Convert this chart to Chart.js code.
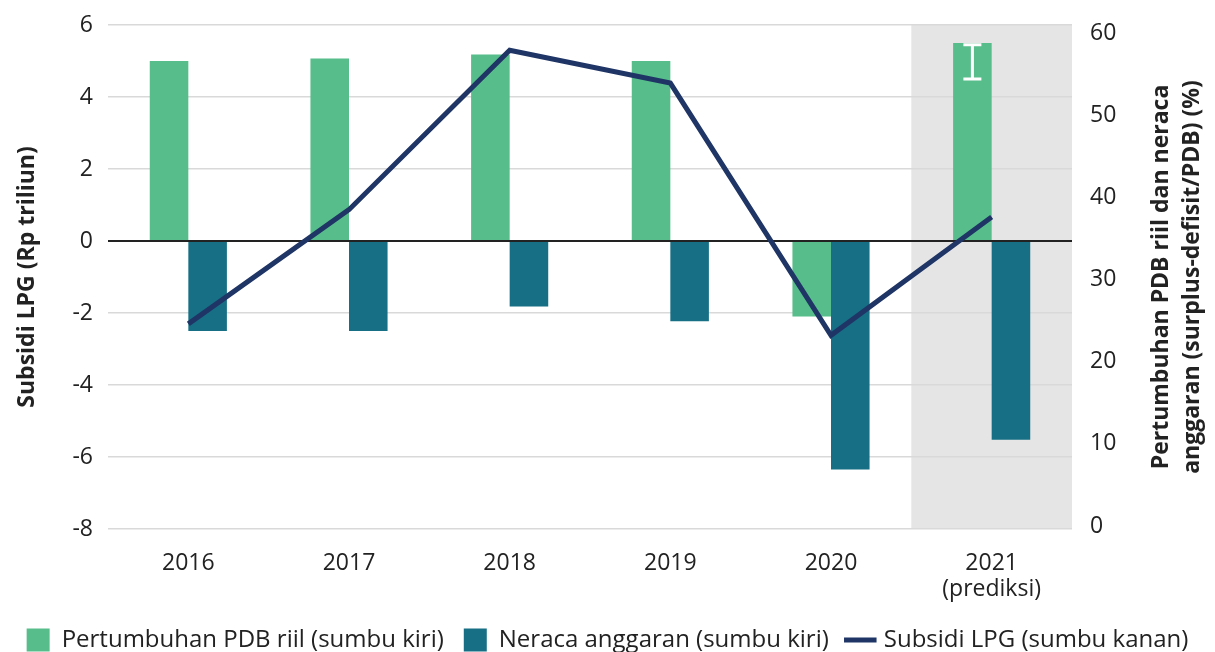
<!DOCTYPE html>
<html>
<head>
<meta charset="utf-8">
<script src="https://cdn.jsdelivr.net/npm/chart.js@4.4.1/dist/chart.umd.min.js"></script>
<style>
  html, body { margin: 0; padding: 0; background: #fff; }
  #wrap { width: 1215px; height: 652px; position: relative; }
</style>
</head>
<body>
<div id="wrap"><canvas id="chart"></canvas></div>
<script>
// data
const years = ['2016', '2017', '2018', '2019', '2020', ['2021', '(prediksi)']];
const pdbGrowth = [5.0, 5.07, 5.18, 5.0, -2.1, 5.5];        // left axis
const budgetBalance = [-2.5, -2.5, -1.82, -2.23, -6.35, -5.52]; // left axis
const lpgSubsidy = [24.6, 38.5, 57.9, 53.9, 23.2, 37.6];     // right axis
const pdbErrLow = [null, null, null, null, null, 4.5];
const pdbErrHigh = [null, null, null, null, null, 5.45];
const leftTicks = [-8, -6, -4, -2, 0, 2, 4, 6];
const rightTicks = [0, 10, 20, 30, 40, 50, 60];

const FONT = "'Open Sans', sans-serif";
const TEXT = '#222';
const GREEN = '#57bd8a';
const TEAL = '#176f85';
const NAVY = '#1f3566';

// grey band behind the forecast year
const forecastBand = {
  id: 'forecastBand',
  beforeDraw(chart) {
    const { ctx, chartArea, scales: { x } } = chart;
    const i = years.length - 1;
    const half = (x.getPixelForValue(1) - x.getPixelForValue(0)) / 2;
    const cx = x.getPixelForValue(i);
    ctx.save();
    ctx.fillStyle = '#e4e5e4';
    ctx.fillRect(cx - half, chartArea.top, half * 2, chartArea.bottom - chartArea.top);
    ctx.restore();
  }
};

// black zero line above the bars, below the LPG line
const zeroLine = {
  id: 'zeroLine',
  beforeDatasetDraw(chart, args) {
    if (args.meta.type !== 'line') return;
    const { ctx, chartArea, scales: { y } } = chart;
    const py = y.getPixelForValue(0);
    ctx.save();
    ctx.strokeStyle = '#222';
    ctx.lineWidth = 2;
    ctx.beginPath();
    ctx.moveTo(chartArea.left, py);
    ctx.lineTo(chartArea.right, py);
    ctx.stroke();
    ctx.restore();
  }
};

// white range marker on the forecast bar
const errorBars = {
  id: 'errorBars',
  afterDatasetsDraw(chart) {
    const { ctx, scales: { y } } = chart;
    const meta = chart.getDatasetMeta(0);
    ctx.save();
    ctx.strokeStyle = '#fff';
    ctx.lineWidth = 3;
    pdbErrLow.forEach((lo, i) => {
      if (lo === null) return;
      const bx = meta.data[i].x;
      const y1 = y.getPixelForValue(lo);
      const y2 = y.getPixelForValue(pdbErrHigh[i]);
      ctx.beginPath();
      ctx.moveTo(bx, y1); ctx.lineTo(bx, y2);
      ctx.moveTo(bx - 9, y1); ctx.lineTo(bx + 9, y1);
      ctx.moveTo(bx - 9, y2); ctx.lineTo(bx + 9, y2);
      ctx.stroke();
    });
    ctx.restore();
  }
};

// right axis title, reading bottom to top like the left one
const rightTitle = {
  id: 'rightTitle',
  afterDraw(chart) {
    const { ctx, chartArea } = chart;
    const cy = (chartArea.top + chartArea.bottom) / 2;
    ctx.save();
    ctx.fillStyle = TEXT;
    ctx.font = "bold 23px " + FONT;
    ctx.textAlign = 'center';
    ctx.textBaseline = 'middle';
    ctx.translate(1161, cy);
    ctx.rotate(-Math.PI / 2);
    ctx.fillText('Pertumbuhan PDB riil dan neraca', 0, 0);
    ctx.fillText('anggaran (surplus-defisit/PDB) (%)', 0, 31);
    ctx.restore();
  }
};

new Chart(document.getElementById('chart'), {
  data: {
    labels: years,
    datasets: [
      {
        type: 'bar',
        label: 'Pertumbuhan PDB riil (sumbu kiri)',
        data: pdbGrowth,
        backgroundColor: GREEN,
        yAxisID: 'y',
        order: 1,
        categoryPercentage: 0.48,
        barPercentage: 1
      },
      {
        type: 'bar',
        label: 'Neraca anggaran (sumbu kiri)',
        data: budgetBalance,
        backgroundColor: TEAL,
        yAxisID: 'y',
        order: 1,
        categoryPercentage: 0.48,
        barPercentage: 1
      },
      {
        type: 'line',
        label: 'Subsidi LPG (sumbu kanan)',
        data: lpgSubsidy,
        borderColor: NAVY,
        backgroundColor: NAVY,
        borderWidth: 5,
        pointRadius: 0,
        tension: 0,
        yAxisID: 'y1',
        order: 0
      }
    ]
  },
  options: {
    responsive: true,
    maintainAspectRatio: false,
    animation: false,
    layout: { padding: { top: 25, left: 0, right: 0, bottom: -10 } },
    plugins: {
      tooltip: { enabled: false },
      legend: {
        position: 'bottom',
        labels: {
          font: { family: FONT, size: 24 },
          color: TEXT,
          usePointStyle: true,
          boxWidth: 23,
          boxHeight: 23,
          padding: 20,
          generateLabels(chart) {
            return chart.data.datasets.map((ds, i) => ({
              text: ds.label,
              fillStyle: ds.type === 'line' ? NAVY : ds.backgroundColor,
              strokeStyle: ds.type === 'line' ? NAVY : ds.backgroundColor,
              lineWidth: ds.type === 'line' ? 5 : 0,
              pointStyle: ds.type === 'line' ? 'line' : 'rect',
              fontColor: TEXT,
              datasetIndex: i,
              hidden: false
            }));
          }
        }
      }
    },
    scales: {
      x: {
        grid: { display: false },
        border: { display: false },
        ticks: {
          font: { family: FONT, size: 23, lineHeight: 1.15 },
          color: TEXT,
          padding: 13,
          maxRotation: 0
        },
        afterFit(scale) { scale.height = 79; }
      },
      y: {
        position: 'left',
        min: -8,
        max: 6,
        afterBuildTicks(scale) { scale.ticks = leftTicks.map(v => ({ value: v })); },
        grid: { color: '#d9d9d9', lineWidth: 1.5, drawTicks: true, tickLength: 15, tickColor: 'rgba(0,0,0,0)' },
        border: { display: false },
        ticks: {
          font: { family: FONT, size: 23 },
          color: TEXT,
          padding: 0
        },
        title: {
          display: true,
          text: 'Subsidi LPG (Rp triliun)',
          font: { family: FONT, size: 23, weight: 'bold' },
          color: TEXT,
          padding: { top: 14, bottom: 0 }
        },
        afterFit(scale) { scale.width = 108; }
      },
      y1: {
        position: 'right',
        min: -0.36,
        max: 60.97,
        afterBuildTicks(scale) { scale.ticks = rightTicks.map(v => ({ value: v })); },
        grid: { display: false, drawTicks: true, tickLength: 18 },
        border: { display: false },
        ticks: {
          font: { family: FONT, size: 23 },
          color: TEXT,
          padding: 0
        },
        afterFit(scale) { scale.width = 143; }
      }
    }
  },
  plugins: [forecastBand, zeroLine, errorBars, rightTitle]
});
</script>
</body>
</html>
